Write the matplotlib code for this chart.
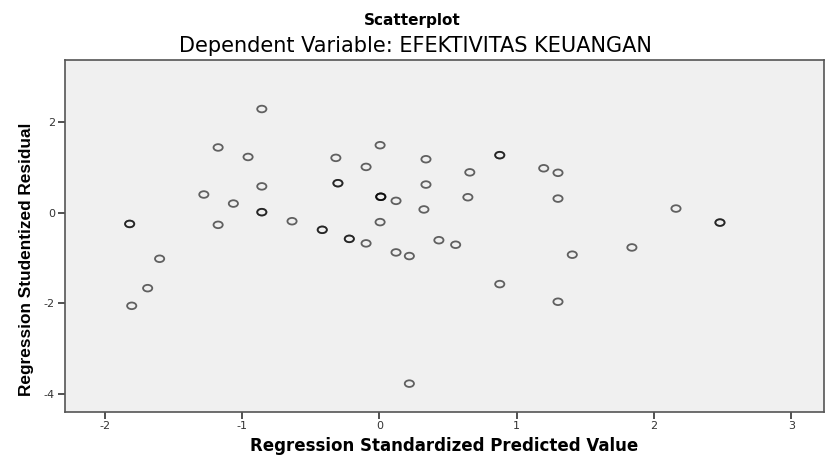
import matplotlib.pyplot as plt
from matplotlib.path import Path
import numpy as np

plt.rcParams['axes.unicode_minus'] = False

# values (repeated pairs = overlapping cases)
pred_x = [-0.855, -1.173, -0.955, -0.316, 0.006, -0.096, 0.34, 0.877, 0.877,
          1.197, 1.301, 0.659, -0.855, -0.301, -0.301, 0.34, -1.277, -1.062,
          0.011, 0.011, 0.011, 0.122, 0.645, 1.301, 0.325, 2.16, -0.855, -0.855,
          -0.635, -0.415, -0.415, -1.173, -1.817, -1.817, 0.006, -0.218, -0.218,
          -0.096, 0.434, 0.556, 0.122, 0.219, 1.405, 1.839, 2.48, 2.48,
          -1.599, -1.686, -1.802, 0.877, 1.301, 0.219]
resid_y = [2.29, 1.44, 1.23, 1.21, 1.49, 1.01, 1.18, 1.27, 1.27,
           0.98, 0.88, 0.89, 0.58, 0.65, 0.65, 0.62, 0.40, 0.20,
           0.35, 0.35, 0.35, 0.26, 0.34, 0.31, 0.07, 0.09, 0.01, 0.01,
           -0.19, -0.38, -0.38, -0.27, -0.25, -0.25, -0.21, -0.58, -0.58,
           -0.68, -0.61, -0.71, -0.88, -0.96, -0.93, -0.77, -0.22, -0.22,
           -1.02, -1.67, -2.06, -1.58, -1.97, -3.78]
x_ticks = [-2, -1, 0, 1, 2, 3]
y_ticks = [-4, -2, 0, 2]

# slightly flattened circle, like the stretched SPSS export
circ = Path.unit_circle()
ellipse = Path(circ.vertices * np.array([1.0, 0.72]), circ.codes)

fig = plt.figure(figsize=(8.25, 4.55), dpi=100)
ax = fig.add_axes([0.0784, 0.0952, 0.920, 0.7736])
ax.set_facecolor('#f0f0f0')

ax.scatter(pred_x, resid_y, s=44, marker=ellipse, facecolors='none',
           edgecolors='black', linewidths=1.3, alpha=0.6)

ax.set_xlim(-2.29, 3.235)
ax.set_ylim(-4.40, 3.38)
ax.set_xticks(x_ticks)
ax.set_yticks(y_ticks)
ax.tick_params(direction='out', length=5, width=1.2, colors='#333333',
               labelsize=8, pad=2)
for sp in ax.spines.values():
    sp.set_color('#555555')
    sp.set_linewidth(1.2)

ax.set_xlabel('Regression Standardized Predicted Value', fontsize=12,
              fontweight='bold', family='DejaVu Sans')
ax.xaxis.set_label_coords(0.5, -0.098)
ax.set_ylabel('Regression Studentized Residual', fontsize=12.4,
              fontweight='bold', family='Liberation Sans')
ax.yaxis.set_label_coords(-0.0503, 0.434)
ax.yaxis.label.set_va('center')
ax.xaxis.label.set_va('center')

fig.text(0.5, 0.956, 'Scatterplot', ha='center', va='center', fontsize=11,
         fontweight='bold', family='DejaVu Sans')
fig.text(0.503, 0.899, 'Dependent Variable: EFEKTIVITAS KEUANGAN', ha='center',
         va='center', fontsize=15, family='DejaVu Sans')

fig.savefig('out.png', dpi=100)
